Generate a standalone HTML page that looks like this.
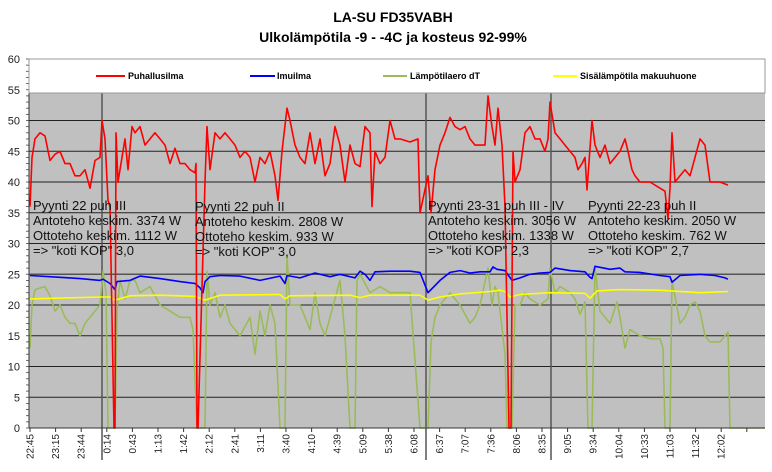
<!DOCTYPE html>
<html><head><meta charset="utf-8">
<style>
body{margin:0;background:#fff;font-family:"Liberation Sans",sans-serif;}
svg{display:block}
</style></head>
<body>
<svg id="chart" width="772" height="472" xmlns="http://www.w3.org/2000/svg" font-family="Liberation Sans, sans-serif">
<text x="393" y="22" text-anchor="middle" font-size="14" font-weight="bold">LA-SU FD35VABH</text>
<text x="393" y="42" text-anchor="middle" font-size="14" font-weight="bold">Ulkolämpötila -9 - -4C ja kosteus 92-99%</text>
<rect x="29" y="59" width="736" height="369" fill="#c0c0c0"/>
<g id="grid"></g>
<g id="vlines"></g>
<g id="series"></g>
<g id="axes"></g>
<g>
<rect x="29" y="59" width="736" height="34" fill="#fff" stroke="#999" stroke-width="1"/>
<line x1="96" y1="76" x2="125" y2="76" stroke="#f00" stroke-width="2"/>
<text x="128" y="79" font-size="9" font-weight="bold">Puhallusilma</text>
<line x1="250" y1="76" x2="275" y2="76" stroke="#00f" stroke-width="2"/>
<text x="277" y="79" font-size="9" font-weight="bold">Imuilma</text>
<line x1="383" y1="76" x2="407" y2="76" stroke="#9bbb59" stroke-width="2"/>
<text x="410" y="79" font-size="9" font-weight="bold">Lämpötilaero dT</text>
<line x1="553" y1="76" x2="577" y2="76" stroke="#ff0" stroke-width="2"/>
<text x="580" y="79" font-size="9" font-weight="bold">Sisälämpötila makuuhuone</text>
</g>
<g font-size="13" fill="#111">
<text><tspan x="33" y="210">Pyynti 22 puh III</tspan><tspan x="33" y="225">Antoteho keskim. 3374 W</tspan><tspan x="33" y="240">Ottoteho keskim. 1112 W</tspan><tspan x="33" y="255">=&gt; "koti KOP" 3,0</tspan></text>
<text><tspan x="195" y="211">Pyynti 22 puh II</tspan><tspan x="195" y="226">Antoteho keskim. 2808 W</tspan><tspan x="195" y="241">Ottoteho keskim. 933 W</tspan><tspan x="195" y="256">=&gt; "koti KOP" 3,0</tspan></text>
<text><tspan x="428" y="210">Pyynti 23-31 puh III - IV</tspan><tspan x="428" y="225">Antoteho keskim. 3056 W</tspan><tspan x="428" y="240">Ottoteho keskim. 1338 W</tspan><tspan x="428" y="255">=&gt; "koti KOP" 2,3</tspan></text>
<text><tspan x="588" y="210">Pyynti 22-23 puh II</tspan><tspan x="588" y="225">Antoteho keskim. 2050 W</tspan><tspan x="588" y="240">Ottoteho keskim. 762 W</tspan><tspan x="588" y="255">=&gt; "koti KOP" 2,7</tspan></text>
</g>
</svg>
<script>
const tickLabels=["22:45","23:15","23:44","0:14","0:43","1:13","1:42","2:12","2:41","3:11","3:40","4:10","4:39","5:09","5:38","6:08","6:37","7:07","7:36","8:06","8:35","9:05","9:34","10:04","10:33","11:03","11:32","12:02",""];
const yTicks=[0,5,10,15,20,25,30,35,40,45,50,55,60];
const markerSamples=[72,396,521];
const redSamples=[0,2,5,10,15,20,25,30,35,40,45,50,55,60,65,70,72,75,78,80,84,85,86,88,95,98,102,105,110,115,120,125,130,135,140,145,150,155,160,165,166,167,168,175,177,180,185,190,195,200,205,210,215,220,225,230,235,240,245,248,252,257,260,265,270,275,280,285,290,295,300,305,310,315,320,325,330,335,340,342,345,350,355,360,365,370,380,388,390,398,401,405,410,415,420,425,430,435,440,445,450,455,458,462,465,468,472,475,479,481,483,485,490,495,500,505,510,515,518,520,525,530,535,540,545,548,552,555,557,562,565,570,575,580,585,590,595,598,602,605,610,620,630,635,638,640,642,645,650,655,660,665,670,675,680,685,690,698];
const redValues=[36,44,47,48,47.5,43.5,44.5,45,43,43,41,41,42,39,43.5,44,50,47,37,36,0,0,48,40,47,42,49,48,49,46,47,48,47,46,43,45.5,43,43,42,41.5,43,0,0,40,49,42,48,47,48,47,46,44,45,44,40,44,43,45,41,37,45,52,50,46,44,43,48,43,47,41,43,49,46,40,46,43,42.5,49,48,36,45,43,44,50,47,47,46.5,47,35,41,35,42,46,48,50.5,49,48.5,49,47,46,46,46,54,49,46,52,46,36,0,0,45,40,42,48,49,47,47,45,47,53,48,47,46,45,44,42,43,44,38.7,50,46,44,46,43,44,45,47,45,42,41,40,40,39,38.5,34,39,48,40,41,42,41,44,47,46,40,40,40,39.5];
const blueSamples=[0,30,50,70,73,80,85,87,100,110,130,150,165,170,173,175,180,190,210,230,250,255,257,270,285,300,310,325,330,335,340,345,360,380,390,398,410,420,430,440,450,460,463,467,475,482,490,500,510,520,525,540,555,560,562,565,580,590,595,610,630,640,642,650,670,685,695,698];
const blueValues=[24.8,24.5,24.3,24,24.2,23.5,22.5,23.8,24,24.7,24.3,23.8,23.5,22.8,22,23.8,24.6,24.8,24.7,24,24.7,23.5,24.8,24.4,25.2,24.6,25,24.4,25.5,25,24,25.4,25.5,25.5,25.3,22,24,25.3,25.6,25.2,25.4,25.4,26.2,25.8,25.6,24,24.4,25,25.2,25.3,26,25.6,25.4,24.5,24.3,26.3,25.8,26,25.4,25.3,24.8,24.6,23.7,24.8,25,24.8,24.4,24.2];
const yellowSamples=[0,70,80,85,100,130,165,175,190,250,255,260,320,330,340,390,398,410,430,460,470,475,480,490,520,555,560,567,590,630,670,698];
const yellowValues=[21,21.3,21.3,20.8,21.5,21.6,21.4,20.8,21.6,21.7,21,21.5,21.6,21.2,21.6,21.6,20.8,21.3,21.8,22.2,22.4,22.2,21.3,21.7,22,21.9,21.1,22.3,22.5,22.4,22,22.2];
const greenSamples=[0,2,5,15,20,25,30,35,40,45,50,55,60,65,70,73,76,78,85,87,90,95,100,105,110,120,130,140,150,160,163,167,175,177,180,185,190,195,200,210,220,225,230,235,240,245,250,255,257,260,265,270,280,285,290,295,300,310,315,320,325,327,330,340,350,360,370,380,390,398,401,405,410,420,430,440,445,450,458,462,465,468,475,477,482,485,490,495,500,510,518,520,525,530,540,545,550,555,558,562,565,570,575,580,587,590,595,600,610,620,630,633,635,640,642,650,655,660,665,670,675,680,690,698,700,735];
const greenValues=[13,20,22.5,23,21.5,19,20,18,17,17,15,17,18,19,20,25.5,22,0,0,19,24,21,24,24,22,23,20,19,18,18,16,0,0,25.5,20,22,18,20,17,15,18,12,19,15,20,17,0,0,28,20,20,20,16,22,17,15,18,24,15,0,0,24,25,22,23,22,22,22,0,0,14,18,20,22,20,17,18,20,26,20,23,22,12,0,0,20,20,22,21,20,21,26,22,23,22,21,18.5,20.5,0,0,26,19,18,17,20.5,18,13,16,15,14.5,14.5,13,0,0,24,17,18,20,20.5,19,15,14,14,15.6,0,0];

const NS='http://www.w3.org/2000/svg';
const X0=30,PX_PER=1,YT=59,YB=428;
function xs(s){return X0+s*PX_PER;}
function ys(v){return YB-(v/60)*(YB-YT);}
function mk(tag,attrs,parent){const e=document.createElementNS(NS,tag);for(const k in attrs)e.setAttribute(k,attrs[k]);parent.appendChild(e);return e;}
const grid=document.getElementById('grid'),axes=document.getElementById('axes'),ser=document.getElementById('series'),vl=document.getElementById('vlines');
yTicks.forEach(v=>{
  if(v>0&&v<60){const l=mk('line',{x1:29,x2:765,y1:ys(v),y2:ys(v),stroke:(v==25||v==40)?'#555':'#222','stroke-width':(v==25||v==40)?1.6:1},grid);
  
  }
  const t=mk('text',{x:20,y:ys(v)+4,'text-anchor':'end','font-size':11,fill:'#222'},axes);
  t.textContent=v;
  
  
});
for(let v=0;v<=60;v++){mk('line',{x1:26,x2:29,y1:ys(v),y2:ys(v),stroke:'#444','stroke-width':0.8},axes);}
const ax=mk('line',{x1:29,x2:29,y1:YT,y2:YB,stroke:'#333'},axes);


const xa=mk('line',{x1:29,x2:765,y1:YB,y2:YB,stroke:'#333'},axes);


tickLabels.forEach((lab,i)=>{
  const x=xs(i*25.6);
  mk('line',{x1:x,x2:x,y1:YB,y2:YB+4,stroke:'#333'},axes);
  const t=mk('text',{x:0,y:0,'text-anchor':'end','font-size':10,fill:'#222',transform:`translate(${x+3.5},${YB+6}) rotate(-90)`},axes);
  t.textContent=lab;
  
  
});
markerSamples.forEach(s=>{
  const l=mk('line',{x1:xs(s),x2:xs(s),y1:93,y2:460,stroke:'#555','stroke-width':1.5},vl);
  
  
});
function drawSeries(sx,sv,color,name){
  const d=sx.map((s,i)=>(i?'L':'M')+xs(s).toFixed(1)+','+ys(sv[i]).toFixed(1)).join('');
  const p=mk('path',{d:d,fill:'none',stroke:color,'stroke-width':1.6,'stroke-linejoin':'round'},ser);
  
  
}
drawSeries(greenSamples,greenValues,'#9bbb59','series-lampotilaero');
drawSeries(yellowSamples,yellowValues,'#ffff00','series-sisalampotila');
drawSeries(blueSamples,blueValues,'#0000ff','series-imuilma');
drawSeries(redSamples,redValues,'#ff0000','series-puhallusilma');
</script>
</body></html>
